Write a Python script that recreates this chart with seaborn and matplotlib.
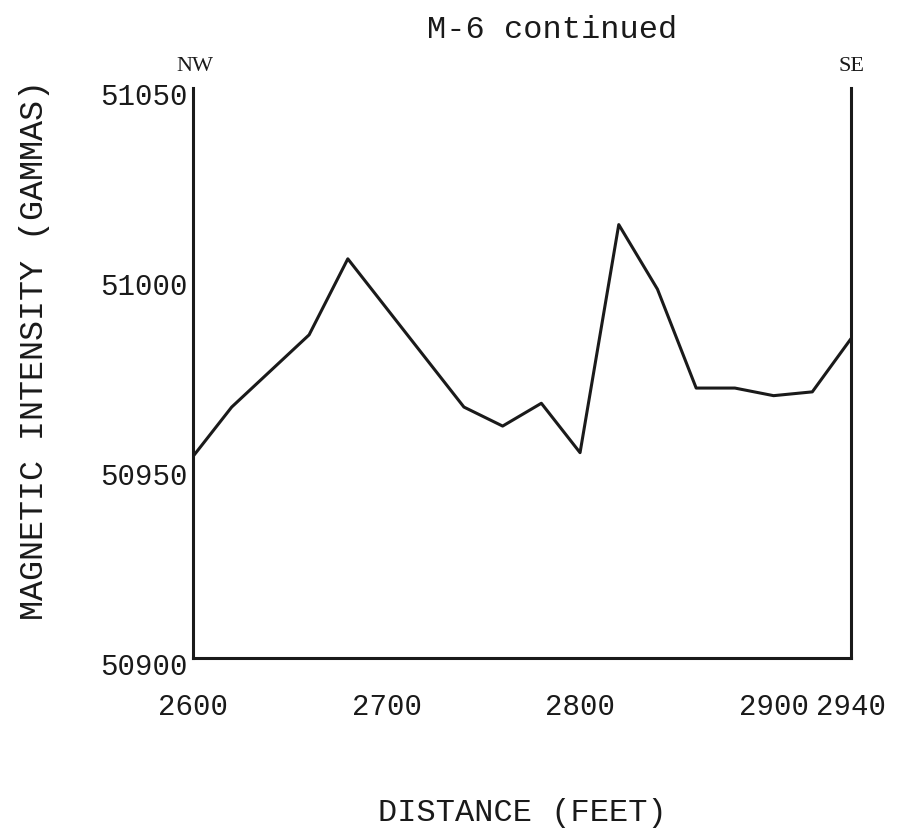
import matplotlib
matplotlib.use("Agg")
import matplotlib.pyplot as plt
import matplotlib.transforms as mtransforms
import seaborn as sns
import pandas as pd

distance_ft = [2600, 2620, 2660, 2680, 2740, 2760, 2780, 2800, 2820, 2840, 2860, 2880, 2900, 2920, 2940]
intensity_gammas = [50953, 50966, 50985, 51005, 50966, 50961, 50967, 50954, 51014, 50997, 50971, 50971, 50969, 50970, 50984]
x_ticks = [2600, 2700, 2800, 2900, 2940]
y_ticks = [50900, 50950, 51000, 51050]

df = pd.DataFrame({"distance": distance_ft, "intensity": intensity_gammas})

sns.set_theme(style="white")
plt.rcParams['font.family'] = ['Liberation Mono', 'DejaVu Sans Mono']

fig = plt.figure(figsize=(9.09, 8.36), dpi=100)
ax = fig.add_axes([0.2123, 0.213, 0.7239, 0.682])

sns.lineplot(data=df, x="distance", y="intensity", ax=ax, color="#1a1a1a", linewidth=2.2)

ax.set_xlim(2600, 2940)
ax.set_ylim(50900, 51050)
ax.set_xticks(x_ticks)
ax.set_yticks(y_ticks)
ax.set_xticklabels([str(t) for t in x_ticks], fontsize=21, color="#1a1a1a")
ax.set_yticklabels([str(t) for t in y_ticks], fontsize=21, color="#1a1a1a", va="center")
ax.tick_params(axis="x", length=0, pad=25)
ax.tick_params(axis="y", length=0, pad=4)
shift = mtransforms.ScaledTranslation(0, -0.09, fig.dpi_scale_trans)
for lab in ax.get_yticklabels():
    lab.set_transform(lab.get_transform() + shift)

for s in ["left", "right", "bottom"]:
    ax.spines[s].set_visible(True)
    ax.spines[s].set_color("#1a1a1a")
    ax.spines[s].set_linewidth(2.2)
ax.spines["top"].set_visible(False)

ax.set_xlabel("DISTANCE (FEET)", fontsize=23, color="#1a1a1a")
ax.xaxis.label.set_va("center")
ax.xaxis.set_label_coords(0.5, -0.272)
ax.set_ylabel("MAGNETIC INTENSITY (GAMMAS)", fontsize=24, color="#1a1a1a")
ax.yaxis.label.set_va("center")
ax.yaxis.set_label_coords(-0.241, 0.54)

fig.text(0.607, 0.964, "M-6 continued", fontsize=23, ha="center", va="center", color="#1a1a1a")
ax.text(0.003, 1.02, "NW", transform=ax.transAxes, fontsize=16, ha="center", va="bottom",
        family=["Liberation Serif", "DejaVu Serif"], color="#1a1a1a")
ax.text(1.0, 1.02, "SE", transform=ax.transAxes, fontsize=16, ha="center", va="bottom",
        family=["Liberation Serif", "DejaVu Serif"], color="#1a1a1a")

fig.savefig("out.png", dpi=100, facecolor="white")
